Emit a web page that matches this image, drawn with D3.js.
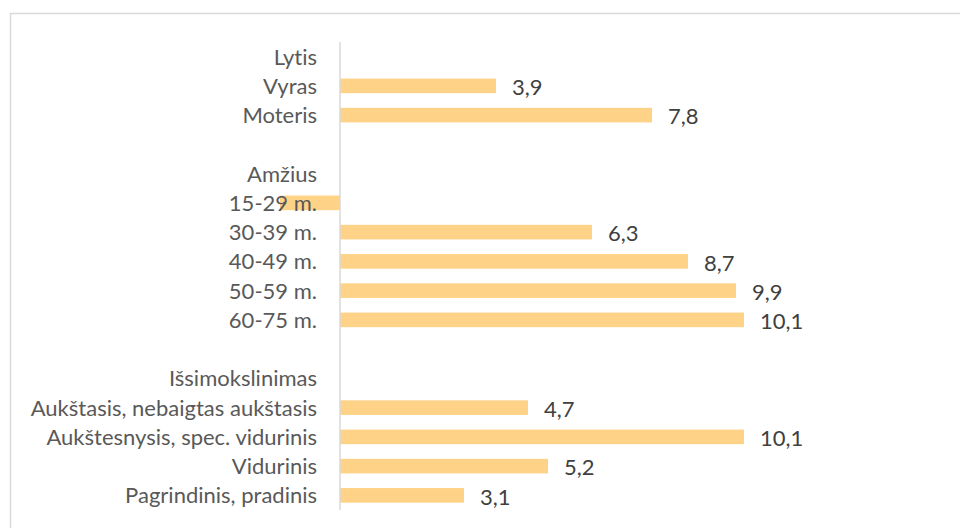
<!DOCTYPE html>
<html>
<head>
<meta charset="utf-8">
<script src="https://cdn.jsdelivr.net/npm/d3@7"></script>
<style>
  body { margin: 0; background: #fff; }
  text { font-family: Lato, "Open Sans", sans-serif; font-variant-ligatures: none; }
</style>
</head>
<body>
<svg id="chart" width="960" height="528"></svg>
<script>
'use strict';

// category rows, top to bottom (blank strings are spacer rows)
const categories = [
  'Lytis', 'Vyras', 'Moteris', '',
  'Amžius', '15-29 m.', '30-39 m.', '40-49 m.', '50-59 m.', '60-75 m.', ' ',
  'Išsimokslinimas', 'Aukštasis, nebaigtas aukštasis',
  'Aukštesnysis, spec. vidurinis', 'Vidurinis', 'Pagrindinis, pradinis'
];

// values per row, null where a row is a heading or spacer
const values = [
  null, 3.9, 7.8, null,
  null, -1.5, 6.3, 8.7, 9.9, 10.1, null,
  null, 4.7, 10.1, 5.2, 3.1
];

const rows = categories.map((c, i) => ({ key: i, label: c, value: values[i] }));

const svg = d3.select('#chart');
const width = 960;
const height = 528;

// chart frame
svg.append('rect')
  .attr('x', 10.5)
  .attr('y', 13.5)
  .attr('width', width)
  .attr('height', height)
  .attr('fill', 'none')
  .attr('stroke', '#d9d9d9')
  .attr('stroke-width', 1.5);

const x = d3.scaleLinear()
  .domain([0, 10.1])
  .range([340, 744]);

const y = d3.scaleBand()
  .domain(rows.map(d => d.key))
  .range([42, 510])
  .paddingInner(0.5)
  .paddingOuter(0.25);

const bars = rows.filter(d => d.value !== null);

svg.append('g')
  .selectAll('rect')
  .data(bars)
  .enter().append('rect')
  .attr('x', d => x(Math.min(0, d.value)))
  .attr('y', d => y(d.key))
  .attr('width', d => Math.abs(x(d.value) - x(0)))
  .attr('height', y.bandwidth())
  .attr('fill', '#ffd387');

// vertical axis line
svg.append('line')
  .attr('x1', x(0))
  .attr('x2', x(0))
  .attr('y1', 42)
  .attr('y2', 510)
  .attr('stroke', '#d9d9d9')
  .attr('stroke-width', 1.5);

// category labels
svg.append('g')
  .selectAll('text')
  .data(rows)
  .enter().append('text')
  .attr('x', x(0) - 23)
  .attr('y', d => y(d.key) + y.bandwidth() / 2)
  .attr('dy', '0.36em')
  .attr('text-anchor', 'end')
  .attr('font-size', 22)
  .attr('fill', '#595959')
  .text(d => d.label.trim());

// value labels
const fmt = v => String(v).replace('.', ',');

svg.append('g')
  .selectAll('text')
  .data(bars.filter(d => d.value > 0))
  .enter().append('text')
  .attr('x', d => x(d.value) + 16)
  .attr('y', d => y(d.key) + y.bandwidth() / 2)
  .attr('dy', '0.42em')
  .attr('font-size', 22)
  .attr('fill', '#404040')
  .text(d => fmt(d.value));
</script>
</body>
</html>
